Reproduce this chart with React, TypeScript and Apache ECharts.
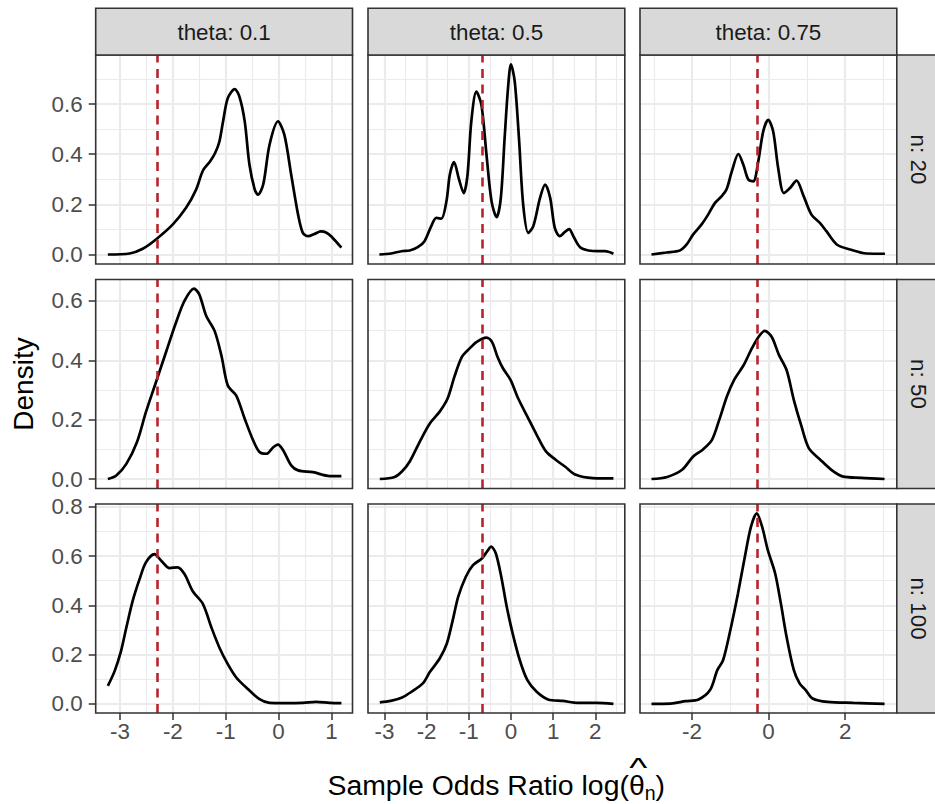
import React, { useEffect, useRef } from "react";
import * as echarts from "echarts";

// ---------- facet labels / parameters ----------
const thetaLabels = ["theta: 0.1", "theta: 0.5", "theta: 0.75"];
const nLabels = ["n: 20", "n: 50", "n: 100"];
const trueLogOR = [-2.303, -0.693, -0.288];

// ---------- axis limits and ticks ----------
const xLimits = [[-3.46, 1.4], [-3.39, 2.7], [-3.36, 3.35]];
const yLimits = [[-0.038, 0.796], [-0.032, 0.672], [-0.037, 0.811]];
const xTicks = [[-3, -2, -1, 0, 1], [-3, -2, -1, 0, 1, 2], [-2, 0, 2]];
const yTicks = [[0, 0.2, 0.4, 0.6], [0, 0.2, 0.4, 0.6], [0, 0.2, 0.4, 0.6, 0.8]];
const xStep = [1, 1, 2];
const yStep = [0.2, 0.2, 0.2];

// ---------- density curves [x, density] ----------
const d_t01_n20 = [[-3.23,0],[-2.82,0.004],[-2.57,0.023],[-2.32,0.06],[-2.0,0.12],[-1.75,0.186],[-1.56,0.259],[-1.43,0.335],[-1.3,0.37],[-1.2,0.405],[-1.12,0.45],[-1.05,0.531],[-0.96,0.624],[-0.83,0.66],[-0.74,0.63],[-0.64,0.531],[-0.55,0.358],[-0.45,0.259],[-0.39,0.239],[-0.29,0.279],[-0.17,0.438],[-0.01,0.531],[0.11,0.478],[0.24,0.318],[0.37,0.159],[0.46,0.086],[0.56,0.073],[0.68,0.082],[0.8,0.092],[0.9,0.088],[1.0,0.072],[1.19,0.027]];
const d_t05_n20 = [[-3.12,0],[-2.84,0.004],[-2.6,0.013],[-2.4,0.016],[-2.21,0.029],[-2.05,0.053],[-1.89,0.113],[-1.77,0.146],[-1.65,0.143],[-1.53,0.212],[-1.45,0.318],[-1.35,0.369],[-1.24,0.305],[-1.12,0.245],[-1.03,0.318],[-0.94,0.531],[-0.82,0.65],[-0.7,0.597],[-0.58,0.398],[-0.46,0.212],[-0.34,0.149],[-0.24,0.226],[-0.15,0.464],[-0.07,0.663],[0.0,0.759],[0.09,0.69],[0.19,0.464],[0.29,0.199],[0.41,0.086],[0.53,0.113],[0.69,0.226],[0.81,0.279],[0.93,0.226],[1.04,0.106],[1.16,0.073],[1.28,0.09],[1.38,0.101],[1.48,0.073],[1.64,0.029],[1.84,0.016],[2.07,0.013],[2.23,0.013],[2.43,0.003]];
const d_t075_n20 = [[-3.06,0],[-2.67,0.008],[-2.32,0.016],[-2.14,0.04],[-1.97,0.08],[-1.75,0.12],[-1.58,0.159],[-1.4,0.206],[-1.23,0.232],[-1.1,0.259],[-0.96,0.332],[-0.79,0.401],[-0.66,0.358],[-0.53,0.299],[-0.4,0.292],[-0.27,0.371],[-0.14,0.491],[-0.01,0.537],[0.12,0.491],[0.25,0.345],[0.4,0.245],[0.56,0.265],[0.73,0.295],[0.9,0.239],[1.12,0.159],[1.34,0.126],[1.51,0.093],[1.78,0.04],[2.13,0.02],[2.56,0.004],[3.04,0.003]];
const d_t01_n50 = [[-3.23,0],[-3.07,0.012],[-2.88,0.051],[-2.68,0.124],[-2.51,0.225],[-2.32,0.326],[-2.13,0.427],[-1.94,0.527],[-1.78,0.6],[-1.6,0.641],[-1.5,0.622],[-1.37,0.55],[-1.21,0.499],[-1.08,0.415],[-0.96,0.315],[-0.8,0.281],[-0.64,0.203],[-0.48,0.13],[-0.36,0.091],[-0.23,0.085],[-0.1,0.107],[-0.01,0.116],[0.09,0.096],[0.24,0.046],[0.37,0.029],[0.65,0.023],[0.97,0.01],[1.19,0.01]];
const d_t05_n50 = [[-3.11,0],[-2.76,0.007],[-2.58,0.026],[-2.4,0.059],[-2.14,0.132],[-1.92,0.188],[-1.69,0.227],[-1.5,0.272],[-1.34,0.345],[-1.16,0.412],[-0.98,0.44],[-0.81,0.462],[-0.58,0.476],[-0.45,0.462],[-0.32,0.412],[-0.19,0.373],[-0.01,0.334],[0.17,0.272],[0.39,0.21],[0.61,0.149],[0.83,0.093],[1.06,0.065],[1.28,0.042],[1.54,0.014],[1.94,0.003],[2.43,0.002]];
const d_t075_n50 = [[-3.06,0],[-2.65,0.007],[-2.26,0.031],[-1.97,0.076],[-1.73,0.098],[-1.48,0.132],[-1.29,0.199],[-1.09,0.278],[-0.9,0.334],[-0.65,0.384],[-0.46,0.434],[-0.26,0.479],[-0.1,0.499],[0.08,0.479],[0.27,0.418],[0.47,0.367],[0.66,0.266],[0.86,0.177],[1.05,0.104],[1.35,0.065],[1.64,0.031],[1.93,0.009],[2.42,0.004],[3.03,0]];
const d_t01_n100 = [[-3.23,0.073],[-3.1,0.134],[-2.98,0.215],[-2.88,0.31],[-2.76,0.418],[-2.63,0.506],[-2.51,0.574],[-2.35,0.608],[-2.22,0.581],[-2.06,0.551],[-1.91,0.554],[-1.78,0.527],[-1.62,0.456],[-1.43,0.405],[-1.27,0.31],[-1.12,0.229],[-0.96,0.161],[-0.8,0.107],[-0.58,0.06],[-0.36,0.019],[-0.17,0.004],[0.09,0.003],[0.46,0.004],[0.71,0.008],[0.97,0.004],[1.19,0.003]];
const d_t05_n100 = [[-3.11,0.006],[-2.85,0.012],[-2.58,0.026],[-2.36,0.049],[-2.09,0.083],[-1.92,0.13],[-1.69,0.184],[-1.52,0.245],[-1.38,0.34],[-1.25,0.435],[-1.07,0.516],[-0.9,0.563],[-0.69,0.59],[-0.56,0.62],[-0.47,0.638],[-0.36,0.611],[-0.23,0.516],[-0.1,0.394],[0.04,0.286],[0.21,0.177],[0.39,0.096],[0.61,0.049],[0.88,0.018],[1.23,0.012],[1.59,0.004],[2.03,0.004],[2.43,0]];
const d_t075_n100 = [[-3.06,0],[-2.56,0.001],[-2.17,0.011],[-1.83,0.018],[-1.53,0.056],[-1.34,0.137],[-1.19,0.177],[-1.0,0.299],[-0.8,0.448],[-0.62,0.597],[-0.46,0.719],[-0.31,0.773],[-0.17,0.719],[-0.02,0.624],[0.17,0.53],[0.32,0.408],[0.47,0.272],[0.66,0.137],[0.81,0.083],[0.97,0.056],[1.15,0.022],[1.54,0.008],[2.22,0.004],[3.03,0]];

const densities = [
  [d_t01_n20, d_t05_n20, d_t075_n20],
  [d_t01_n50, d_t05_n50, d_t075_n50],
  [d_t01_n100, d_t05_n100, d_t075_n100],
];

// ---------- layout ----------
const W = 935;
const H = 804;
const COL_L = [95.7, 368, 640];
const COL_W = 256.8;
const ROW_T = [55, 279.5, 504];
const ROW_H = 209;
const STRIP_TOP = 8.3;
const STRIP_H = 46.7;
const FF = '"Liberation Sans", Arial, Helvetica, sans-serif';

function measure(text: string, size: number): number {
  const c = document.createElement("canvas");
  const ctx = c.getContext("2d");
  if (!ctx) return text.length * size * 0.55;
  ctx.font = `${size}px ${FF}`;
  return ctx.measureText(text).width;
}

function isTick(v: number, arr: number[]) {
  return arr.some((t) => Math.abs(t - v) < 1e-6);
}

function txt(x: number, y: number, text: string, size: number, fill: string, align = "center", extra: any = {}) {
  return {
    type: "text",
    x,
    y,
    z: 110,
    silent: true,
    ...extra,
    style: {
      text,
      fontSize: size,
      fontFamily: FF,
      fill,
      align,
      verticalAlign: "middle",
      textAlign: align,
      textVerticalAlign: "middle",
    },
  };
}

export default function App() {
  const ref = useRef<HTMLDivElement>(null);

  useEffect(() => {
    if (!ref.current) return;
    const chart = echarts.init(ref.current, null, { renderer: "svg", width: W, height: H });

    const grids: any[] = [];
    const xAxes: any[] = [];
    const yAxes: any[] = [];
    const series: any[] = [];
    const graphics: any[] = [];

    for (let r = 0; r < 3; r++) {
      for (let c = 0; c < 3; c++) {
        const idx = r * 3 + c;
        grids.push({
          left: COL_L[c],
          top: ROW_T[r],
          width: COL_W,
          height: ROW_H,
          containLabel: false,
          outerBoundsMode: "none",
          show: true,
          backgroundColor: "#FFFFFF",
          borderWidth: 0,
        });
        xAxes.push({
          type: "value",
          gridIndex: idx,
          position: "bottom",
          min: xLimits[c][0],
          max: xLimits[c][1],
          minInterval: xStep[c],
          maxInterval: xStep[c],
          axisLine: { show: false, onZero: false },
          axisTick: {
            show: r === 2,
            customValues: xTicks[c],
            length: 7,
            lineStyle: { color: "#333333", width: 1.5 },
          },
          axisLabel: {
            show: r === 2,
            customValues: xTicks[c],
            margin: 7,
            color: "#4D4D4D",
            fontSize: 22.4,
            fontFamily: FF,
            formatter: (v: number) => (isTick(v, xTicks[c]) ? String(Math.round(v)) : ""),
          },
          splitLine: { show: true, lineStyle: { color: "#EBEBEB", width: 2.2 } },
          minorTick: { show: false, splitNumber: 2 },
          minorSplitLine: { show: true, lineStyle: { color: "#EBEBEB", width: 1.1 } },
        });
        yAxes.push({
          type: "value",
          gridIndex: idx,
          position: "left",
          min: yLimits[r][0],
          max: yLimits[r][1],
          minInterval: yStep[r],
          maxInterval: yStep[r],
          axisLine: { show: false, onZero: false },
          axisTick: {
            show: c === 0,
            customValues: yTicks[r],
            length: 7,
            lineStyle: { color: "#333333", width: 1.5 },
          },
          axisLabel: {
            show: c === 0,
            customValues: yTicks[r],
            margin: 13,
            color: "#4D4D4D",
            fontSize: 22.4,
            fontFamily: FF,
            formatter: (v: number) => (isTick(v, yTicks[r]) ? v.toFixed(1) : ""),
          },
          splitLine: { show: true, lineStyle: { color: "#EBEBEB", width: 2.2 } },
          minorTick: { show: false, splitNumber: 2 },
          minorSplitLine: { show: true, lineStyle: { color: "#EBEBEB", width: 1.1 } },
        });
        series.push({
          type: "line",
          xAxisIndex: idx,
          yAxisIndex: idx,
          data: densities[r][c],
          smooth: 0.3,
          showSymbol: false,
          symbol: "none",
          silent: true,
          lineStyle: { color: "#000000", width: 2.7 },
          z: 2,
          markLine: {
            silent: true,
            symbol: ["none", "none"],
            label: { show: false },
            z: 3,
            lineStyle: { color: "#B8242B", width: 2.6, type: [9, 6.5], opacity: 1 },
            emphasis: { disabled: true },
            data: [{ xAxis: trueLogOR[c] }],
          },
        });
        // panel border
        graphics.push({
          type: "rect",
          z: 100,
          silent: true,
          shape: { x: COL_L[c], y: ROW_T[r], width: COL_W, height: ROW_H },
          style: { fill: "none", stroke: "#333333", lineWidth: 1.6 },
        });
      }
    }

    // top strips
    for (let c = 0; c < 3; c++) {
      graphics.push({
        type: "rect",
        z: 100,
        silent: true,
        shape: { x: COL_L[c], y: STRIP_TOP, width: COL_W, height: STRIP_H },
        style: { fill: "#D9D9D9", stroke: "#333333", lineWidth: 1.6 },
      });
      graphics.push(txt(COL_L[c] + COL_W / 2, 32.6, thetaLabels[c], 22.4, "#1A1A1A"));
    }
    // right strips
    const stripX = COL_L[2] + COL_W;
    for (let r = 0; r < 3; r++) {
      graphics.push({
        type: "rect",
        z: 100,
        silent: true,
        shape: { x: stripX, y: ROW_T[r], width: STRIP_H, height: ROW_H },
        style: { fill: "#D9D9D9", stroke: "#333333", lineWidth: 1.6 },
      });
      graphics.push(
        txt(918, ROW_T[r] + ROW_H / 2, nLabels[r], 22.4, "#1A1A1A", "center", { rotation: -Math.PI / 2 })
      );
    }

    // y title
    graphics.push(txt(23, 384, "Density", 28, "#000000", "center", { rotation: Math.PI / 2 }));

    // x title with hat-theta and subscript n
    const FS = 28.4;
    const SUB = 19.6;
    const part1 = "Sample Odds Ratio log(";
    const w1 = measure(part1, FS);
    const wT = measure("\u03B8", FS);
    const wN = measure("n", SUB);
    const wP = measure(")", FS);
    const total = w1 + wT + wN + wP;
    const cx = (COL_L[0] + stripX) / 2;
    const x0 = cx - total / 2;
    const yMid = 784.5;
    graphics.push(txt(x0, yMid, part1, FS, "#000000", "left"));
    graphics.push(txt(x0 + w1, yMid, "\u03B8", FS, "#000000", "left"));
    graphics.push(txt(x0 + w1 + wT / 2 + 1.5, 767.3, "^", FS, "#000000", "center", { scaleX: 1.35 }));
    graphics.push(txt(x0 + w1 + wT, 792.5, "n", SUB, "#000000", "left"));
    graphics.push(txt(x0 + w1 + wT + wN, yMid, ")", FS, "#000000", "left"));

    chart.setOption({
      animation: false,
      backgroundColor: "#FFFFFF",
      grid: grids,
      xAxis: xAxes,
      yAxis: yAxes,
      series,
      graphic: { elements: graphics },
    });

    return () => chart.dispose();
  }, []);

  return (
    <div
      ref={ref}
      style={{ position: "absolute", left: 0, top: 0, width: W, height: H, background: "#fff" }}
    />
  );
}
